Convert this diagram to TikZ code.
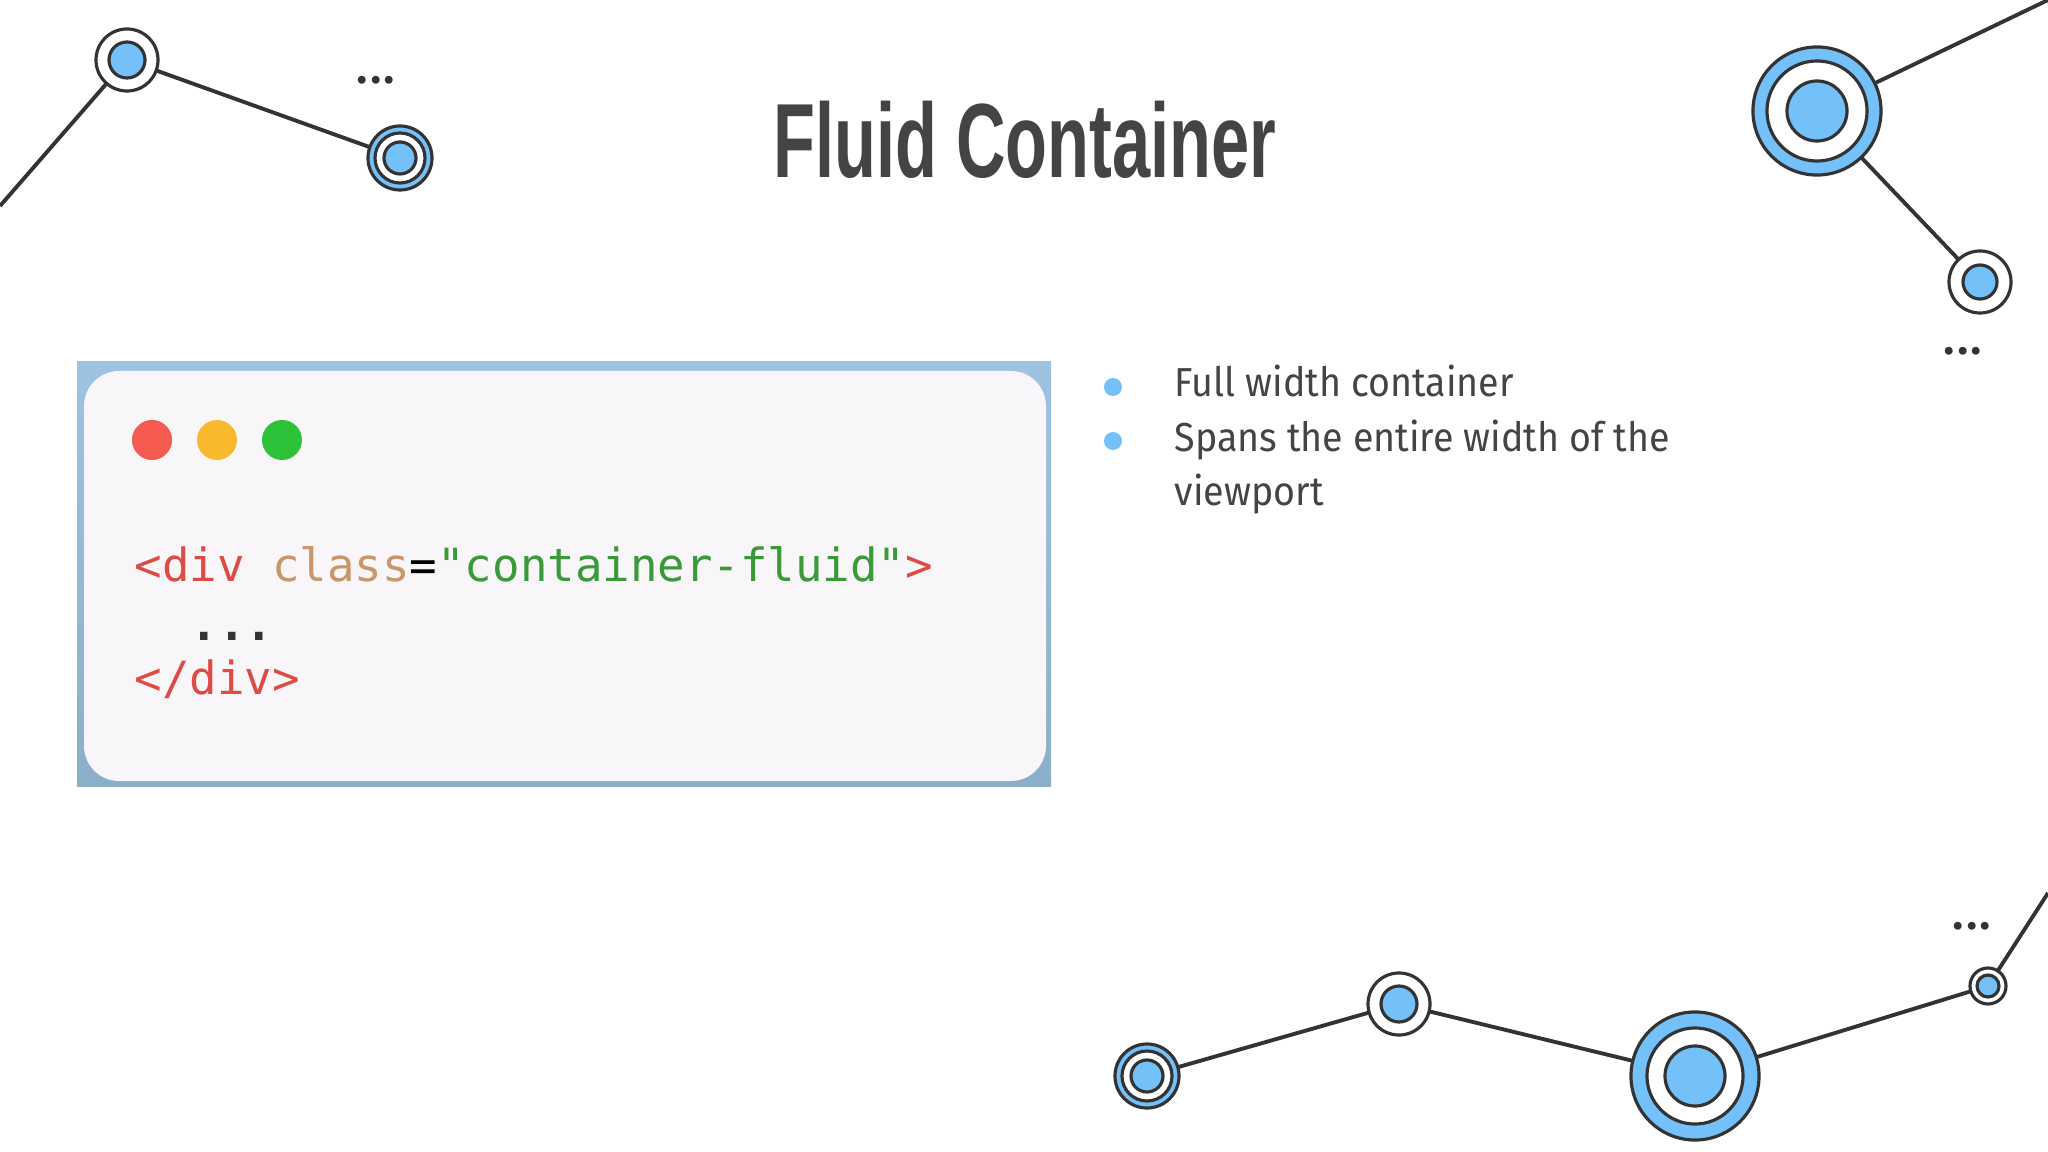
\documentclass[tikz,border=0pt]{standalone}
\usepackage{fontspec}
\setmainfont{Fira Sans}
\newfontfamily\titlefont{Liberation Sans}[Scale=1]
\newfontfamily\codefont{DejaVu Sans Mono}
\definecolor{nodeblue}{HTML}{74C0F8}
\definecolor{ink}{HTML}{333333}
\definecolor{txt}{HTML}{444444}
\definecolor{tagred}{HTML}{DD4B45}
\definecolor{attr}{HTML}{C9966A}
\definecolor{strg}{HTML}{3A9A3A}
\definecolor{frametop}{HTML}{9DC3E0}
\definecolor{framebot}{HTML}{8BAFC8}
\definecolor{codebg}{HTML}{F8F6F8}
\definecolor{dred}{HTML}{F55A50}
\definecolor{dorange}{HTML}{F9B92C}
\definecolor{dgreen}{HTML}{2EC23A}
\tikzset{
  edge/.style={draw=ink, line width=1.1pt},
  ringw/.style={circle, draw=ink, line width=0.9pt, fill=white, inner sep=0pt},
  ringb/.style={circle, draw=ink, line width=0.9pt, fill=nodeblue, inner sep=0pt},
  dotsl/.style={text=ink, font=\fontsize{16}{16}\selectfont},
}
\begin{document}
\begin{tikzpicture}[x=0.01cm,y=-0.01cm]
\useasboundingbox (0,0) rectangle (2048,1152);
\fill[white] (0,0) rectangle (2048,1152);
% coordinates
\coordinate (tl0) at (0,206);
\coordinate (tr0) at (2048,0);
\coordinate (br0) at (2048,893);
% edges
\draw[edge] (tl0) -- (127,60) -- (400,158);
\draw[edge] (tr0) -- (1817,111) -- (1980,282);
\draw[edge] (1147,1076) -- (1399,1004) -- (1695,1076) -- (1988,986) -- (br0);
% top-left nodes
\node[ringw, minimum size=0.62cm] (A) at (127,60) {};
\node[ringb, minimum size=0.36cm] (Ai) at (127,60) {};
\node[ringb, minimum size=0.64cm] (B) at (400,158) {};
\node[ringw, minimum size=0.50cm] (Bw) at (400,158) {};
\node[ringb, minimum size=0.32cm] (Bi) at (400,158) {};
\node[dotsl] (d1) at (376,80) {...};
% top-right nodes
\node[ringb, minimum size=1.28cm] (C) at (1817,111) {};
\node[ringw, minimum size=1.00cm] (Cw) at (1817,111) {};
\node[ringb, minimum size=0.60cm] (Ci) at (1817,111) {};
\node[ringw, minimum size=0.62cm] (D) at (1980,282) {};
\node[ringb, minimum size=0.34cm] (Di) at (1980,282) {};
\node[dotsl] (d2) at (1963,351) {...};
% bottom nodes
\node[ringb, minimum size=0.64cm] (E) at (1147,1076) {};
\node[ringw, minimum size=0.50cm] (Ew) at (1147,1076) {};
\node[ringb, minimum size=0.32cm] (Ei) at (1147,1076) {};
\node[ringw, minimum size=0.62cm] (F) at (1399,1004) {};
\node[ringb, minimum size=0.36cm] (Fi) at (1399,1004) {};
\node[ringb, minimum size=1.28cm] (G) at (1695,1076) {};
\node[ringw, minimum size=0.96cm] (Gw) at (1695,1076) {};
\node[ringb, minimum size=0.60cm] (Gi) at (1695,1076) {};
\node[ringw, minimum size=0.36cm] (H) at (1988,986) {};
\node[ringb, minimum size=0.22cm] (Hi) at (1988,986) {};
\node[dotsl] (d3) at (1972,926) {...};
% title
\node[text=txt, font=\titlefont\bfseries\fontsize{30}{30}\selectfont, xscale=0.65] (title) at (1025,140) {Fluid Container};
% code window
\shade[top color=frametop, bottom color=framebot] (77,362) rectangle (1051,786);
\fill[codebg, rounded corners=10] (84,371) rectangle (1046,781);
\fill[dred] (152,440) circle (20);
\fill[dorange] (217,440) circle (20);
\fill[dgreen] (282,440) circle (20);
\node[anchor=west, inner sep=0, font=\codefont\fontsize{13}{13}\selectfont] (c1) at (134,564)
 {\textcolor{tagred}{<div} \textcolor{attr}{class}\textcolor{black}{=}\textcolor{strg}{"container-fluid"}\textcolor{tagred}{>}};
\node[anchor=west, inner sep=0, font=\codefont\bfseries\fontsize{13}{13}\selectfont, text=ink] (c2) at (190,636) {...};
\node[anchor=west, inner sep=0, font=\codefont\fontsize{13}{13}\selectfont, text=tagred] (c3) at (134,679) {</div>};
% bullets
\fill[nodeblue] (1113,387) circle (9);
\fill[nodeblue] (1113,441) circle (9);
\node[inner sep=0, text=txt, font=\fontsize{11.5}{15.6}\selectfont, xscale=0.93, align=left, anchor=north west] (b1) at (1174,364)
 {Full width container\\Spans the entire width of the\\viewport};
\end{tikzpicture}
\end{document}
